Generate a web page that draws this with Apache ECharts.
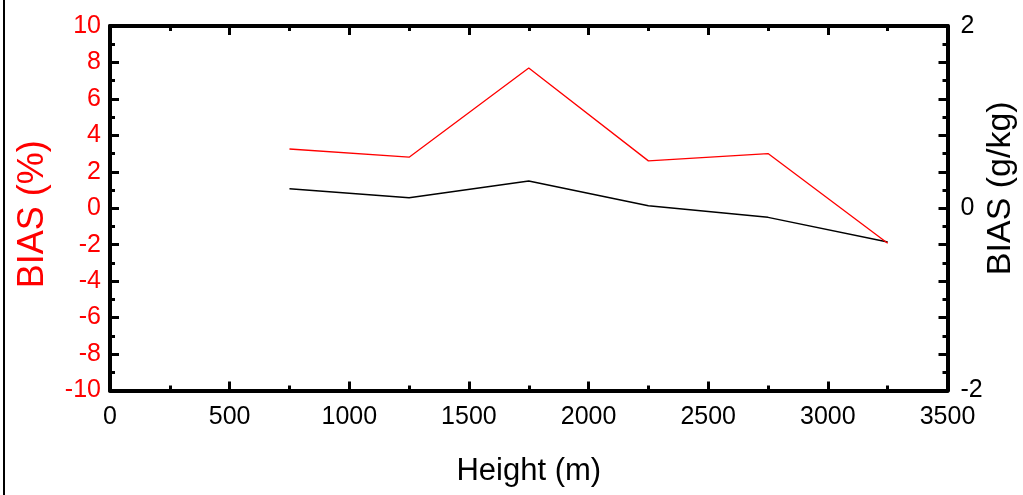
<!DOCTYPE html>
<html>
<head>
<meta charset="utf-8">
<script src="https://cdn.jsdelivr.net/npm/echarts@6/dist/echarts.min.js"></script>
<style>
html,body{margin:0;padding:0;background:#fff;}
#c{width:1023px;height:495px;}
</style>
</head>
<body>
<div id="c"></div>
<script>
var heights = [750, 1250, 1750, 2250, 2750, 3250];
var biasPct = [3.25, 2.8, 7.7, 2.6, 3.0, -1.92];
var biasGkg = [0.215, 0.115, 0.30, 0.028, -0.10, -0.37];
var xTicks = { min: 0, max: 3500, interval: 500 };
var leftTicks = { min: -10, max: 10, interval: 2 };
var rightTicks = { min: -2, max: 2, interval: 0.4, labeled: [-2, 0, 2] };

var regular = '"Liberation Sans", Arial, sans-serif';

function pair(v1, v2) { return v1.map(function (v, i) { return [v, v2[i]]; }); }

var tickCommon = {
  axisLine: { show: true, onZero: false, lineStyle: { color: '#000', width: 4 } },
  axisTick: { show: true, inside: true, length: 9, lineStyle: { color: '#000', width: 3 } },
  minorTick: { show: true, splitNumber: 2, length: 5, lineStyle: { color: '#000', width: 3 } },
  splitLine: { show: false },
  minorSplitLine: { show: false },
  nameMoveOverlap: false
};

var chart = echarts.init(document.getElementById('c'));
chart.setOption({
  animation: false,
  backgroundColor: '#fff',
  grid: { left: 110, top: 26, right: 75.5, bottom: 104.5, containLabel: false, outerBoundsMode: 'none' },
  graphic: [{
    type: 'line', shape: { x1: 4, y1: 0, x2: 4, y2: 495 },
    style: { stroke: '#000', lineWidth: 2 }
  }],
  xAxis: [
    Object.assign({
      type: 'value', position: 'bottom',
      min: xTicks.min, max: xTicks.max, interval: xTicks.interval,
      name: 'Height (m)', nameLocation: 'middle', nameGap: 65,
      nameTextStyle: { color: '#000', fontSize: 31, fontFamily: regular },
      axisLabel: { color: '#000', fontSize: 25, fontFamily: regular, margin: 14, showMinLabel: true, showMaxLabel: true,
        formatter: function (v) { return String(v); } }
    }, tickCommon),
    Object.assign({
      type: 'value', position: 'top',
      min: xTicks.min, max: xTicks.max, interval: xTicks.interval,
      axisLabel: { show: false }
    }, tickCommon)
  ],
  yAxis: [
    Object.assign({
      type: 'value', position: 'left',
      min: leftTicks.min, max: leftTicks.max, interval: leftTicks.interval,
      name: 'BIAS (%)', nameLocation: 'middle', nameGap: 59, nameRotate: 90,
      nameTextStyle: { color: '#ff0000', fontSize: 36, fontFamily: regular, padding: [0, 12, 0, 0] },
      axisLabel: { color: '#ff0000', fontSize: 25, fontFamily: regular, margin: 9,
        formatter: function (v) { return String(v); } }
    }, tickCommon),
    Object.assign({
      type: 'value', position: 'right',
      min: rightTicks.min, max: rightTicks.max, interval: rightTicks.interval,
      name: 'BIAS (g/kg)', nameLocation: 'middle', nameGap: 36, nameRotate: 90,
      nameTextStyle: { color: '#000', fontSize: 34, fontFamily: regular, padding: [0, 0, 0, 40] },
      axisLabel: {
        color: '#000', fontSize: 25, fontFamily: regular, margin: 13,
        formatter: function (v) {
          for (var i = 0; i < rightTicks.labeled.length; i++) {
            if (Math.abs(v - rightTicks.labeled[i]) < 1e-6) return String(rightTicks.labeled[i]);
          }
          return '';
        }
      }
    }, tickCommon)
  ],
  series: [
    {
      type: 'line', xAxisIndex: 0, yAxisIndex: 0,
      data: pair(heights, biasPct), showSymbol: false, symbol: 'none',
      lineStyle: { color: '#ff0000', width: 1.3 }, z: 3
    },
    {
      type: 'line', xAxisIndex: 0, yAxisIndex: 1,
      data: pair(heights, biasGkg), showSymbol: false, symbol: 'none',
      lineStyle: { color: '#000', width: 1.5 }, z: 2
    }
  ]
});
</script>
</body>
</html>
